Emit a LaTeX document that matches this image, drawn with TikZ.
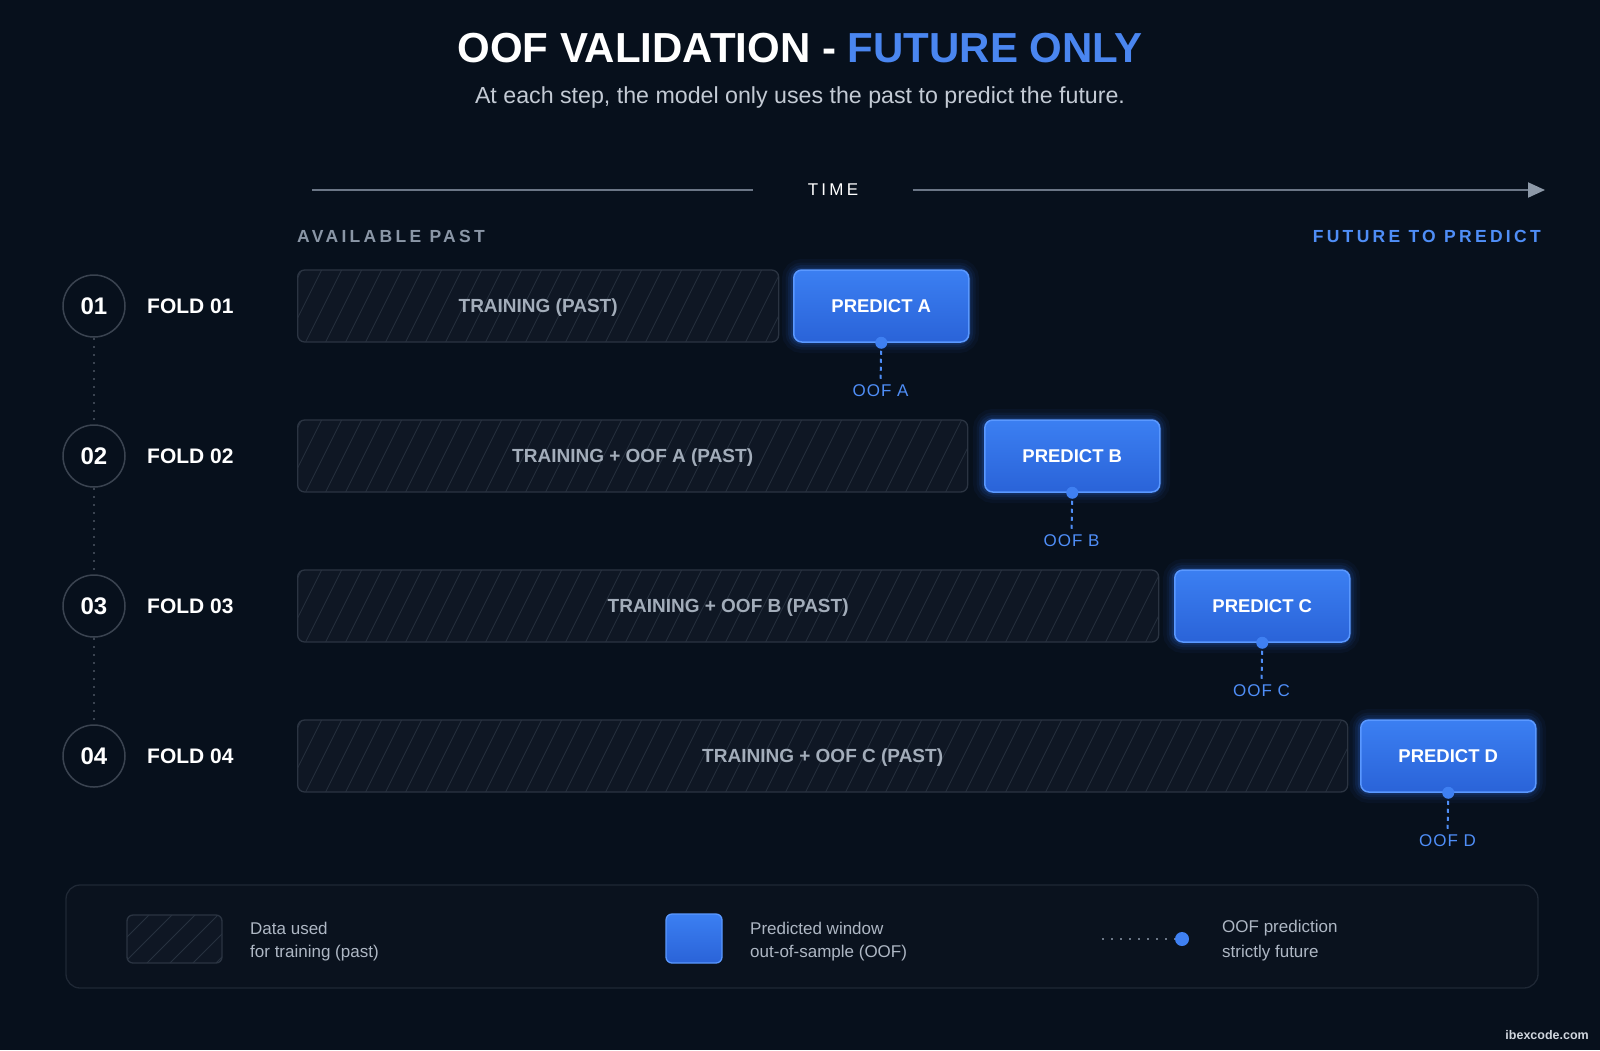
\documentclass[tikz,border=0pt]{standalone}
\usepackage{fontspec}
\setmainfont{Liberation Sans}
\newfontfamily\spacedfont[LetterSpace=19]{Liberation Sans}
\newfontfamily\ooffont[LetterSpace=6]{Liberation Sans}
\usetikzlibrary{arrows.meta}
\definecolor{bgc}{HTML}{07101C}
\definecolor{titleblue}{HTML}{4A86F0}
\definecolor{subc}{HTML}{C3CAD4}
\definecolor{axisc}{HTML}{6B7686}
\definecolor{tipc}{HTML}{8D99A8}
\definecolor{availc}{HTML}{8A96A6}
\definecolor{futc}{HTML}{4F8EF7}
\definecolor{circc}{HTML}{3A4350}
\definecolor{barfill}{HTML}{0F1724}
\definecolor{barborder}{HTML}{2B3442}
\definecolor{hatchc}{HTML}{27313F}
\definecolor{traintext}{HTML}{A3ADBA}
\definecolor{predtop}{HTML}{3B7FF2}
\definecolor{predbot}{HTML}{2A63D8}
\definecolor{predborder}{HTML}{5A98FF}
\definecolor{glowc}{HTML}{2F6FE8}
\definecolor{oofc}{HTML}{4F8EF7}
\definecolor{dotc}{HTML}{3F80F2}
\definecolor{legfill}{HTML}{0A121E}
\definecolor{legborder}{HTML}{1F2835}
\definecolor{legtextc}{HTML}{AEB7C4}
\definecolor{brandc}{HTML}{D0D6DE}
\newcommand\fsz[1]{\fontsize{#1pt}{#1pt}\selectfont}
\begin{document}
\begin{tikzpicture}[x=1pt,y=-1pt,
  hatchline/.style={draw=hatchc, line width=0.8pt},
  hatched/.style 2 args={path picture={\foreach \k in {0,...,70}{\draw[hatchline] ([xshift=\k*#1-72pt]path picture bounding box.south west) -- ++(#2,72pt);}}},
  bar/.style={draw=barborder, line width=1.3pt, fill=barfill, rounded corners=7pt, hatched={20pt}{36pt}, minimum height=72pt, anchor=west, inner sep=0pt, text=traintext, font=\fsz{19}\bfseries, text height=13.6pt, text depth=0pt},
  predict/.style={draw=predborder, line width=1.5pt, top color=predtop, bottom color=predbot, rounded corners=8pt, minimum width=175pt, minimum height=72pt, anchor=west, inner sep=0pt, text=white, font=\fsz{18.5}\bfseries, text height=13.3pt, text depth=0pt},
  ooflbl/.style={text=oofc, font=\fsz{17}\ooffont, inner sep=2pt},
  oofline/.style={draw=oofc, line width=2pt, dash pattern=on 4pt off 4pt},
  foldcirc/.style={circle, draw=circc, line width=1.5pt, fill=bgc, minimum size=62pt, inner sep=0pt, text=white, font=\fsz{24}\bfseries},
  foldlbl/.style={anchor=west, text=white, font=\fsz{21}\bfseries, inner sep=0pt},
  circline/.style={draw=circc, line width=1.5pt, dash pattern=on 2pt off 6pt},
  axis/.style={draw=axisc, line width=2pt},
  legtext/.style={anchor=west, text=legtextc, font=\fsz{17}, inner sep=0pt}]
\useasboundingbox (0,0) rectangle (1600,1050);
\fill[bgc] (0,0) rectangle (1600,1050);

% title
\node (title) at (800,48) {\fsz{42}\bfseries\color{white}OOF VALIDATION - \textcolor{titleblue}{FUTURE ONLY}};
\node (subtitle) at (800,97) {\fsz{23.2}\color{subc}At each step, the model only uses the past to predict the future.};

% time axis
\coordinate (tl) at (312,190);
\coordinate (tr) at (1545,190);
\node[minimum width=159pt, inner sep=0pt, text=white, font=\fsz{17}\spacedfont] (time) at (833,190) {TIME};
\draw[axis] (tl) -- (time.west);
\draw[axis, -{Triangle[length=17pt,width=15pt,color=tipc]}] (time.east) -- (tr);
\node[anchor=west, inner sep=0pt, text=availc, font=\fsz{17.5}\spacedfont\bfseries] (avail) at (297,236) {AVAILABLE PAST};
\node[anchor=east, inner sep=0pt, text=futc, font=\fsz{17.5}\spacedfont\bfseries] (future) at (1541,236) {FUTURE TO PREDICT\hspace{-3.3pt}};

% rows
\foreach \i/\yc/\bw/\px/\L/\txt in {1/306/481/793/A/{TRAINING (PAST)},2/456/670/984/B/{TRAINING + OOF A (PAST)},3/606/861/1174/C/{TRAINING + OOF B (PAST)},4/756/1050/1360/D/{TRAINING + OOF C (PAST)}}{
  \node[foldcirc] (c\i) at (94,\yc) {0\i};
  \node[foldlbl] (f\i) at (147,\yc) {FOLD 0\i};
  \node[bar, minimum width=\bw pt] (t\i) at (297,\yc) {\txt};
  \foreach \w/\o in {22/0.05,15/0.07,10/0.10,5/0.16}{
    \draw[glowc, line width=\w pt, opacity=\o, rounded corners=9pt] (\px,\yc-36) rectangle ++(175,72);
  }
  \node[predict] (p\i) at (\px,\yc) {PREDICT \L};
  \node[ooflbl] (o\i) at (\px+87.5,\yc+85) {OOF \L};
  \draw[oofline, shorten <=8pt, shorten >=1pt] (p\i.south) -- (o\i.north);
  \fill[dotc] (p\i.south) circle (6);
}
\draw[circline] (c1.south) -- (c2.north);
\draw[circline] (c2.south) -- (c3.north);
\draw[circline] (c3.south) -- (c4.north);

% legend
\node[draw=legborder, line width=1.3pt, fill=legfill, rounded corners=14pt, minimum width=1472pt, minimum height=103pt, inner sep=0pt] (legend) at (802,936.5) {};
\node[draw=barborder, line width=1.3pt, fill=barfill, rounded corners=6pt, hatched={23pt}{72pt}, minimum width=95pt, minimum height=48pt, inner sep=0pt] (lh) at (174.5,939) {};
\node[legtext] (l1a) at (250,928) {Data used};
\node[legtext] (l1b) at (250,953) {for training (past)};
\node[draw=predborder, line width=1.3pt, top color=predtop, bottom color=predbot, rounded corners=6pt, minimum width=56pt, minimum height=49pt, inner sep=0pt] (lb) at (694,938.5) {};
\node[legtext] (l2a) at (750,928) {Predicted window};
\node[legtext] (l2b) at (750,953) {out-of-sample (OOF)};
\coordinate (ld) at (1102,939);
\node[circle, fill=dotc, minimum size=14pt, inner sep=0pt] (ldot) at (1182,939) {};
\draw[draw=axisc, line width=1.8pt, dash pattern=on 2pt off 7pt] (ld) -- (ldot.west);
\node[legtext] (l3a) at (1222,928) {OOF prediction};
\node[legtext] (l3b) at (1222,953) {strictly future};

\node[anchor=east, inner sep=0pt, text=brandc, font=\fsz{12.5}\bfseries] (brand) at (1589,1035) {ibexcode.com};
\end{tikzpicture}
\end{document}
